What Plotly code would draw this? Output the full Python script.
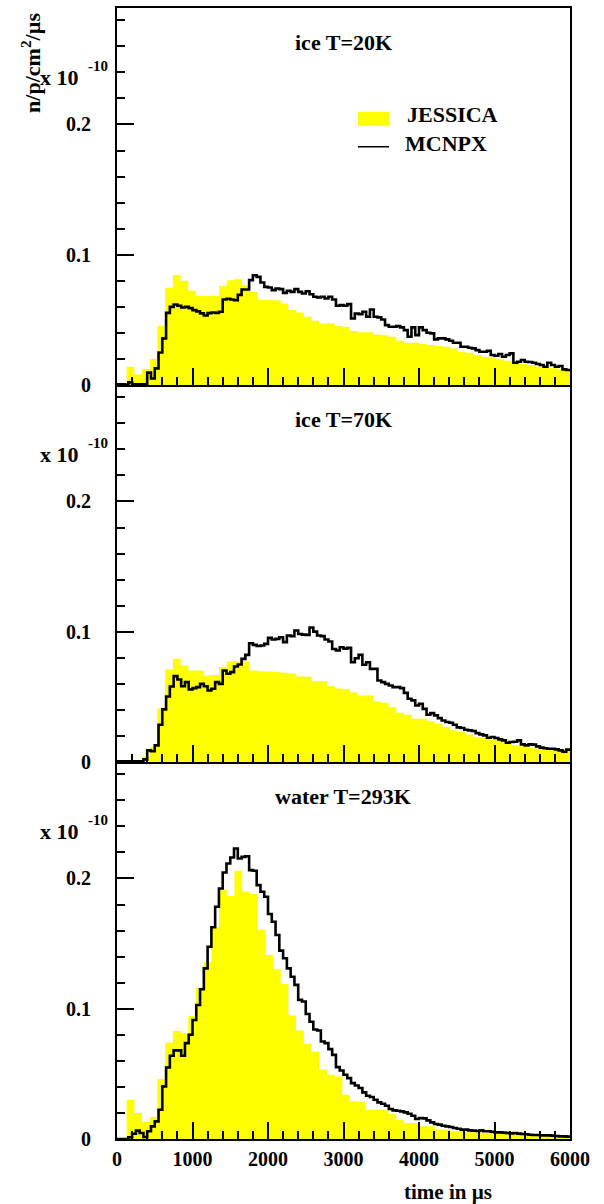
import numpy as np
import plotly.graph_objects as go

# ---------------------------------------------------------------------------
# Time-of-flight spectra: n/p/cm^2/us (in units of 1e-10) versus time in us.
# MCNPX: 50 us bins starting at 0.  JESSICA: ~102 us bins starting at 128 us.
# ---------------------------------------------------------------------------
MCNPX_T0, MCNPX_DT = 0.0, 50.0
JESSICA_T0, JESSICA_DT = 128.0, 102.0

panel_titles = ["ice T=20K", "ice T=70K", "water T=293K"]
series_names = ["JESSICA", "MCNPX"]
x_tick_values = [0, 1000, 2000, 3000, 4000, 5000, 6000]
y_tick_values = [0, 0.1, 0.2]

mcnpx_ice20 = [
    0, 0, 0, 0.002, 0.0005, 0.0005, 0.0005, 0.0005, 0.0095, 0.005,
    0.0128, 0.025, 0.0358, 0.0554, 0.060, 0.0618, 0.0608, 0.0595, 0.060, 0.059,
    0.0575, 0.0565, 0.055, 0.0534, 0.0552, 0.0557, 0.0554, 0.0562, 0.0656, 0.0662,
    0.0656, 0.0651, 0.0692, 0.0733, 0.0733, 0.0805, 0.0843, 0.083, 0.0787, 0.0753,
    0.0748, 0.0728, 0.0741, 0.0736, 0.0707, 0.0723, 0.0715, 0.0736, 0.0715, 0.0702,
    0.072, 0.0697, 0.0677, 0.0672, 0.0677, 0.0664, 0.0677, 0.0656, 0.0608, 0.0613,
    0.0608, 0.0621, 0.0511, 0.0549, 0.0544, 0.0562, 0.0524, 0.058, 0.0524, 0.0519,
    0.0503, 0.046, 0.0447, 0.0447, 0.0452, 0.0442, 0.0421, 0.037, 0.0442, 0.0383,
    0.0442, 0.0421, 0.0401, 0.0396, 0.035, 0.0358, 0.0358, 0.035, 0.034, 0.0324,
    0.0324, 0.0294, 0.0294, 0.0286, 0.0281, 0.0268, 0.0255, 0.0255, 0.0263, 0.023,
    0.0225, 0.0238, 0.0217, 0.023, 0.0243, 0.0171, 0.0179, 0.0192, 0.0179, 0.0176,
    0.0171, 0.0161, 0.0153, 0.014, 0.0171, 0.0153, 0.014, 0.0146, 0.012, 0.0115,
]
jessica_ice20 = [
    0.014, 0.008, 0.0123, 0.0199, 0.0452, 0.0746, 0.0843, 0.080, 0.0723, 0.0685,
    0.0685, 0.0685, 0.0761, 0.0805, 0.0812, 0.0766, 0.0715, 0.0654, 0.0654, 0.0651,
    0.0626, 0.0575, 0.0557, 0.0524, 0.0493, 0.0473, 0.0473, 0.0452, 0.0447, 0.0414,
    0.0404, 0.0404, 0.0388, 0.0381, 0.037, 0.034, 0.0324, 0.0324, 0.0314, 0.0307,
    0.0299, 0.0294, 0.0281, 0.0255, 0.0248, 0.023, 0.0217, 0.0212, 0.0197, 0.0186,
    0.0171, 0.0161, 0.0153, 0.014, 0.0133, 0.0128, 0.012, 0.0115,
]

mcnpx_ice70 = [
    0, 0, 0, 0, 0, 0, 0.0005, 0.002, 0.0089, 0.0082,
    0.0128, 0.0286, 0.0404, 0.0503, 0.058, 0.0659, 0.0633, 0.0582, 0.0613, 0.0557,
    0.0567, 0.0575, 0.06, 0.0582, 0.0549, 0.0562, 0.0613, 0.06, 0.0702, 0.0677,
    0.069, 0.0733, 0.0748, 0.0792, 0.0822, 0.0912, 0.0899, 0.0891, 0.0894, 0.0907,
    0.0953, 0.094, 0.0945, 0.0958, 0.092, 0.0971, 0.0966, 0.1009, 0.0983, 0.0978,
    0.0976, 0.1032, 0.1001, 0.0971, 0.0966, 0.094, 0.0925, 0.0868, 0.0856, 0.0881,
    0.087, 0.0876, 0.0766, 0.0797, 0.0822, 0.0746, 0.0766, 0.0715, 0.0715, 0.0626,
    0.0613, 0.06, 0.0587, 0.0575, 0.0575, 0.0567, 0.0531, 0.0485, 0.0473, 0.0434,
    0.0447, 0.0408, 0.0363, 0.0375, 0.0358, 0.0337, 0.0319, 0.0307, 0.0301, 0.0286,
    0.0266, 0.0261, 0.0248, 0.0243, 0.0238, 0.0222, 0.0212, 0.0204, 0.0186, 0.0192,
    0.0184, 0.0174, 0.0166, 0.0148, 0.0153, 0.0156, 0.0166, 0.0135, 0.0128, 0.0135,
    0.0133, 0.012, 0.011, 0.0105, 0.0102, 0.0102, 0.0097, 0.0089, 0.0079, 0.0095,
]
jessica_ice70 = [
    0, 0, 0.004, 0.0115, 0.041, 0.071, 0.0792, 0.0741, 0.0702, 0.0702,
    0.0664, 0.0668, 0.0728, 0.0771, 0.0771, 0.0771, 0.0702, 0.0697, 0.0695, 0.069,
    0.0685, 0.0677, 0.0656, 0.0654, 0.062, 0.062, 0.0582, 0.0565, 0.056, 0.0535,
    0.0511, 0.0511, 0.0465, 0.0455, 0.0421, 0.0378, 0.0363, 0.0332, 0.0332, 0.0312,
    0.0294, 0.0268, 0.0243, 0.023, 0.0212, 0.0192, 0.0184, 0.0172, 0.0161, 0.014,
    0.0128, 0.012, 0.011, 0.0102, 0.0102, 0.0098, 0.0095, 0.0089,
]

mcnpx_water293 = [
    0, 0, 0, 0.0013, 0.004, 0.0064, 0.0046, 0.0015, 0.0059, 0.0097,
    0.0135, 0.0225, 0.0404, 0.0549, 0.0639, 0.068, 0.068, 0.0639, 0.0736, 0.080,
    0.0914, 0.1029, 0.1149, 0.131, 0.1476, 0.1625, 0.1783, 0.1923, 0.2046, 0.2115,
    0.2161, 0.223, 0.2153, 0.2166, 0.2171, 0.2064, 0.2059, 0.1949, 0.1898, 0.186,
    0.1727, 0.1668, 0.1566, 0.1446, 0.1387, 0.131, 0.1246, 0.1183, 0.1068, 0.1055,
    0.096, 0.09, 0.084, 0.0833, 0.0748, 0.0736, 0.069, 0.0646, 0.0552, 0.0526,
    0.0493, 0.0467, 0.0429, 0.0411, 0.0391, 0.0358, 0.0332, 0.0322, 0.0301, 0.0281,
    0.0271, 0.0255, 0.023, 0.022, 0.0217, 0.0212, 0.0204, 0.0194, 0.0179, 0.0153,
    0.0161, 0.0158, 0.0143, 0.0128, 0.0115, 0.011, 0.0102, 0.0097, 0.0092, 0.0084,
    0.0079, 0.0072, 0.0072, 0.0066, 0.0064, 0.0061, 0.0066, 0.0059, 0.0059, 0.0056,
    0.0051, 0.0051, 0.0049, 0.0046, 0.0043, 0.0046, 0.0041, 0.0038, 0.0036, 0.0033,
    0.0031, 0.0031, 0.0028, 0.0028, 0.0028, 0.0026, 0.0023, 0.002, 0.002, 0.0018,
]
jessica_water293 = [
    0.030, 0.0199, 0.013, 0.0169, 0.046, 0.0741, 0.083, 0.0812, 0.0945, 0.1162,
    0.1356, 0.1625, 0.1916, 0.1865, 0.2059, 0.1898, 0.188, 0.1609, 0.1413, 0.1303,
    0.119, 0.0948, 0.0833, 0.0731, 0.0667, 0.0531, 0.0493, 0.048, 0.034, 0.029,
    0.0285, 0.0225, 0.0225, 0.0225, 0.0192, 0.0148, 0.0123, 0.0123, 0.0097, 0.0097,
    0.0072, 0.0072, 0.0059, 0.0059, 0.0051, 0.0051, 0.0046, 0.0046, 0.0041, 0.0041,
    0.0036, 0.0036, 0.0034, 0.0028, 0.0028, 0.0026, 0.0026, 0.0025,
]

panels = [
    (panel_titles[0], jessica_ice20, mcnpx_ice20),
    (panel_titles[1], jessica_ice70, mcnpx_ice70),
    (panel_titles[2], jessica_water293, mcnpx_water293),
]

# ---------------------------------------------------------------------------
# Page geometry (pixels)
# ---------------------------------------------------------------------------
W, H = 604, 1204
ML, MR, MT, MB = 117, 34, 6, 65
PW, PH = W - ML - MR, H - MT - MB
PANEL_H = PH / 3
PX_PER_UNIT = 1305.0                 # vertical pixels per 1e-10 unit
Y_MAX = PANEL_H / PX_PER_UNIT
X_RANGE = [0, 6000]

FONT = "Liberation Serif, Times New Roman, serif"
YELLOW = "#ffff00"


def fx(px):
    return (px - ML) / PW


def fy(py):
    return (H - MB - py) / PH


def bold(s):
    return f"<b>{s}</b>"


def steps(t0, dt, values):
    edges = t0 + dt * np.arange(len(values) + 1)
    return edges, list(values) + [values[-1]]


def label(x, y, text, size, xanchor="center", angle=0):
    fig.add_annotation(
        x=fx(x), y=fy(y), xref="paper", yref="paper", text=bold(text),
        showarrow=False, xanchor=xanchor, yanchor="middle", textangle=angle,
        font=dict(family=FONT, size=size, color="black", weight="bold"))


fig = go.Figure()
axis_font = dict(family=FONT, size=20, color="black", weight="bold")

for i, (title, jess, mcnp) in enumerate(panels):
    n = 3 - i                      # top panel uses the highest-numbered axes
    xa = "x" if n == 1 else f"x{n}"
    ya = "y" if n == 1 else f"y{n}"

    xe, ye = steps(JESSICA_T0, JESSICA_DT, jess)
    fig.add_trace(go.Scatter(
        x=xe, y=ye, mode="lines", name=series_names[0],
        line=dict(shape="hv", width=0, color=YELLOW),
        fill="tozeroy", fillcolor=YELLOW,
        xaxis=xa, yaxis=ya, showlegend=False, hoverinfo="skip"))

    xm, ym = steps(MCNPX_T0, MCNPX_DT, mcnp)
    fig.add_trace(go.Scatter(
        x=xm, y=ym, mode="lines", name=series_names[1],
        line=dict(shape="hv", width=2.6, color="black"),
        xaxis=xa, yaxis=ya, showlegend=False, hoverinfo="skip"))

    lo, hi = (n - 1) / 3, n / 3
    xkey = "xaxis" if n == 1 else f"xaxis{n}"
    ykey = "yaxis" if n == 1 else f"yaxis{n}"
    fig.update_layout(**{
        xkey: dict(
            domain=[0, 1], anchor=ya, range=X_RANGE,
            showline=True, mirror=True, linecolor="black", linewidth=2,
            ticks="inside", ticklen=17, tickwidth=1.5, tickcolor="black",
            tickvals=x_tick_values,
            ticktext=[bold(v) for v in x_tick_values],
            minor=dict(ticks="inside", ticklen=8, tickwidth=1.5,
                       tickcolor="black", dtick=200, tick0=0),
            showgrid=False, zeroline=False,
            showticklabels=(n == 1), tickfont=axis_font,
            ticklabelstandoff=1,
        ),
        ykey: dict(
            domain=[lo, hi], anchor=xa, range=[0, Y_MAX],
            showline=True, mirror=True, linecolor="black", linewidth=2,
            ticks="inside", ticklen=17, tickwidth=1.5, tickcolor="black",
            tickvals=y_tick_values,
            ticktext=[bold(v) for v in y_tick_values],
            minor=dict(ticks="inside", ticklen=8, tickwidth=1.5,
                       tickcolor="black", dtick=0.02, tick0=0),
            showgrid=False, zeroline=False,
            tickfont=axis_font, ticklabelstandoff=20,
        ),
    })

    top_px = MT + i * PANEL_H
    label(343, top_px + 35, title, 22)                    # panel title
    label(81, top_px + 70, "x 10", 22, xanchor="right")   # scale factor
    label(86, top_px + 58, "-10", 15, xanchor="left")

# axis titles
label(31, 61, "n/p/cm<sup>2</sup>/\u00b5s", 22, angle=-90)
label(494, 1192, "time in \u00b5s", 21, xanchor="right")

# legend (top panel)
fig.add_shape(type="rect", xref="paper", yref="paper",
              x0=fx(358), x1=fx(389), y0=fy(124), y1=fy(110),
              fillcolor=YELLOW, line=dict(width=0))
fig.add_shape(type="line", xref="paper", yref="paper",
              x0=fx(358), x1=fx(389), y0=fy(145), y1=fy(145),
              line=dict(color="black", width=1.5))
label(405, 113, series_names[0], 22, xanchor="left")
label(403, 142, series_names[1], 22, xanchor="left")

fig.update_layout(
    width=W, height=H,
    margin=dict(l=ML, r=MR, t=MT, b=MB, pad=0),
    paper_bgcolor="white", plot_bgcolor="white",
    showlegend=False,
)

fig.write_html("out.html")
